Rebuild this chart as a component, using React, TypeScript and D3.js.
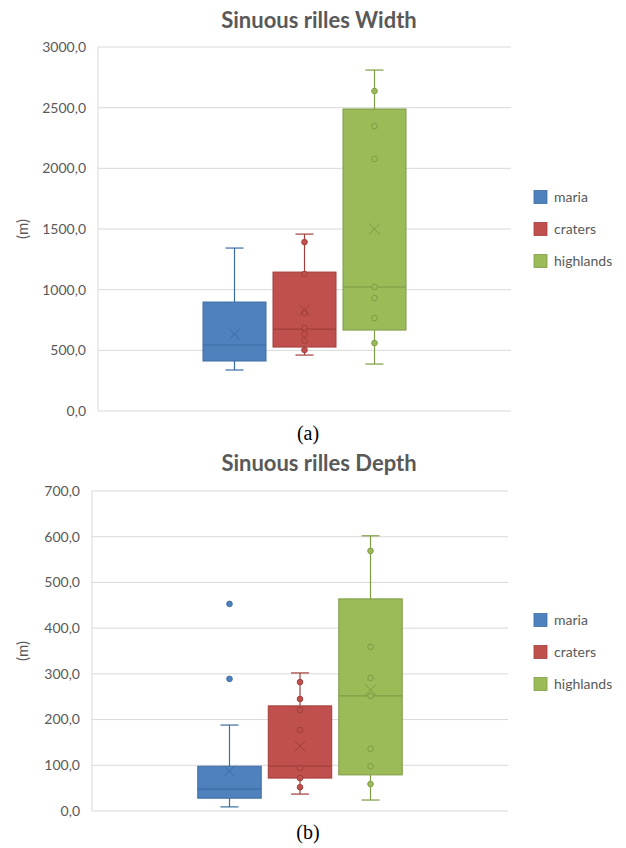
import * as d3 from 'd3';

const categories = ['maria', 'craters', 'highlands'];
const fills = ['#4F81BD', '#C0504D', '#9BBB59'];
const strokes = ['#3D6CA3', '#A13E3B', '#7E9B45'];

// Width (m)
const widthLow = [338, 461, 387];
const widthQ1 = [412, 527, 667];
const widthMedian = [544, 675, 1022];
const widthQ3 = [898, 1145, 2489];
const widthHigh = [1343, 1458, 2810];
const widthMean = [634, 832, 1500];
const widthPoints = [
  [],
  [1392, 1129, 807, 684, 634, 577, 503],
  [2637, 2348, 2077, 1022, 931, 766, 560],
];
const widthTicks = [0, 500, 1000, 1500, 2000, 2500, 3000];

// Depth (m)
const depthLow = [9, 37, 24];
const depthQ1 = [28, 72, 79];
const depthMedian = [48, 98, 252];
const depthQ3 = [98, 230, 464];
const depthHigh = [188, 302, 602];
const depthMean = [87, 142, 265];
const depthPoints = [
  [453, 289],
  [282, 245, 221, 177, 94, 72, 52],
  [569, 359, 291, 252, 136, 98, 59],
];
const depthTicks = [0, 100, 200, 300, 400, 500, 600, 700];

const fmt = (v: number) => d3.format('.1f')(v).replace('.', ',');
const calibri = 'Lato, "Open Sans", sans-serif';

interface Props {
  title: string;
  caption: string;
  left: number;
  right: number;
  yTop: number;
  yBottom: number;
  titleY: number;
  captionY: number;
  legendY: number;
  ticks: number[];
  low: number[];
  q1: number[];
  median: number[];
  q3: number[];
  high: number[];
  mean: number[];
  points: number[][];
}

const BoxChart = (p: Props) => {
  const y = d3.scaleLinear()
    .domain([0, p.ticks[p.ticks.length - 1]])
    .range([p.yBottom, p.yTop]);
  const x = d3.scaleBand<string>()
    .domain(categories)
    .range([p.left, p.right])
    .paddingInner(0.1)
    .paddingOuter(1.5);
  const bw = x.bandwidth();

  return (
    <g>
      <text x={319} y={p.titleY} textAnchor="middle" fontFamily={calibri}
        fontWeight="bold" fontSize={22} fill="#595959">{p.title}</text>
      {p.ticks.map(t => (
        <g key={t}>
          <line x1={p.left} x2={p.right} y1={y(t)} y2={y(t)} stroke="#D9D9D9" strokeWidth={1} />
          <text x={p.left - 12} y={y(t)} dy="0.35em" textAnchor="end"
            fontFamily={calibri} fontSize={14} fill="#595959">{fmt(t)}</text>
        </g>
      ))}
      <line x1={p.left} x2={p.left} y1={p.yTop} y2={p.yBottom} stroke="#D9D9D9" />
      <text transform={`translate(23,${(p.yTop + p.yBottom) / 2}) rotate(-90)`}
        textAnchor="middle" dy="0.35em" fontFamily={calibri} fontSize={15} fill="#595959">(m)</text>

      {categories.map((c, i) => {
        const x0 = x(c) as number;
        const cx = x0 + bw / 2;
        return (
          <g key={c}>
            <line x1={cx} x2={cx} y1={y(p.high[i])} y2={y(p.q3[i])} stroke={strokes[i]} strokeWidth={1.2} />
            <line x1={cx} x2={cx} y1={y(p.q1[i])} y2={y(p.low[i])} stroke={strokes[i]} strokeWidth={1.2} />
            <line x1={cx - 9} x2={cx + 9} y1={y(p.high[i])} y2={y(p.high[i])} stroke={strokes[i]} strokeWidth={1.2} />
            <line x1={cx - 9} x2={cx + 9} y1={y(p.low[i])} y2={y(p.low[i])} stroke={strokes[i]} strokeWidth={1.2} />
            <rect x={x0} y={y(p.q3[i])} width={bw} height={y(p.q1[i]) - y(p.q3[i])}
              fill={fills[i]} stroke={strokes[i]} strokeWidth={1} />
            <line x1={x0} x2={x0 + bw} y1={y(p.median[i])} y2={y(p.median[i])} stroke={strokes[i]} strokeWidth={1.2} />
            {p.points[i].map((v, k) => (
              <circle key={k} cx={cx} cy={y(v)} r={2.8} fill={fills[i]} stroke={strokes[i]} strokeWidth={1} />
            ))}
            <path d={`M${cx - 5.5},${y(p.mean[i]) - 5.5}L${cx + 5.5},${y(p.mean[i]) + 5.5}M${cx - 5.5},${y(p.mean[i]) + 5.5}L${cx + 5.5},${y(p.mean[i]) - 5.5}`}
              stroke={strokes[i]} strokeWidth={1} fill="none" />
          </g>
        );
      })}

      {categories.map((c, i) => (
        <g key={c} transform={`translate(534,${p.legendY + i * 32})`}>
          <rect x={0} y={-6.5} width={13} height={13} fill={fills[i]} stroke={strokes[i]} strokeWidth={0.8} />
          <text x={20} y={0} dy="0.35em" fontFamily={calibri} fontSize={14} fill="#595959">{c}</text>
        </g>
      ))}

      <text x={308} y={p.captionY} textAnchor="middle" fontFamily='"Liberation Serif", "Times New Roman", serif'
        fontSize={20} fill="#000">{p.caption}</text>
    </g>
  );
};

export default function App() {
  return (
    <svg width={626} height={848} style={{ position: 'absolute', left: 0, top: 0, background: '#fff' }}>
      <rect width={626} height={848} fill="#fff" />
      <BoxChart title="Sinuous rilles Width" caption="(a)" left={98} right={511}
        yTop={47} yBottom={411} titleY={28} captionY={440} legendY={197}
        ticks={widthTicks} low={widthLow} q1={widthQ1} median={widthMedian} q3={widthQ3}
        high={widthHigh} mean={widthMean} points={widthPoints} />
      <BoxChart title="Sinuous rilles Depth" caption="(b)" left={92} right={508}
        yTop={491} yBottom={811} titleY={471} captionY={839} legendY={620}
        ticks={depthTicks} low={depthLow} q1={depthQ1} median={depthMedian} q3={depthQ3}
        high={depthHigh} mean={depthMean} points={depthPoints} />
    </svg>
  );
}
